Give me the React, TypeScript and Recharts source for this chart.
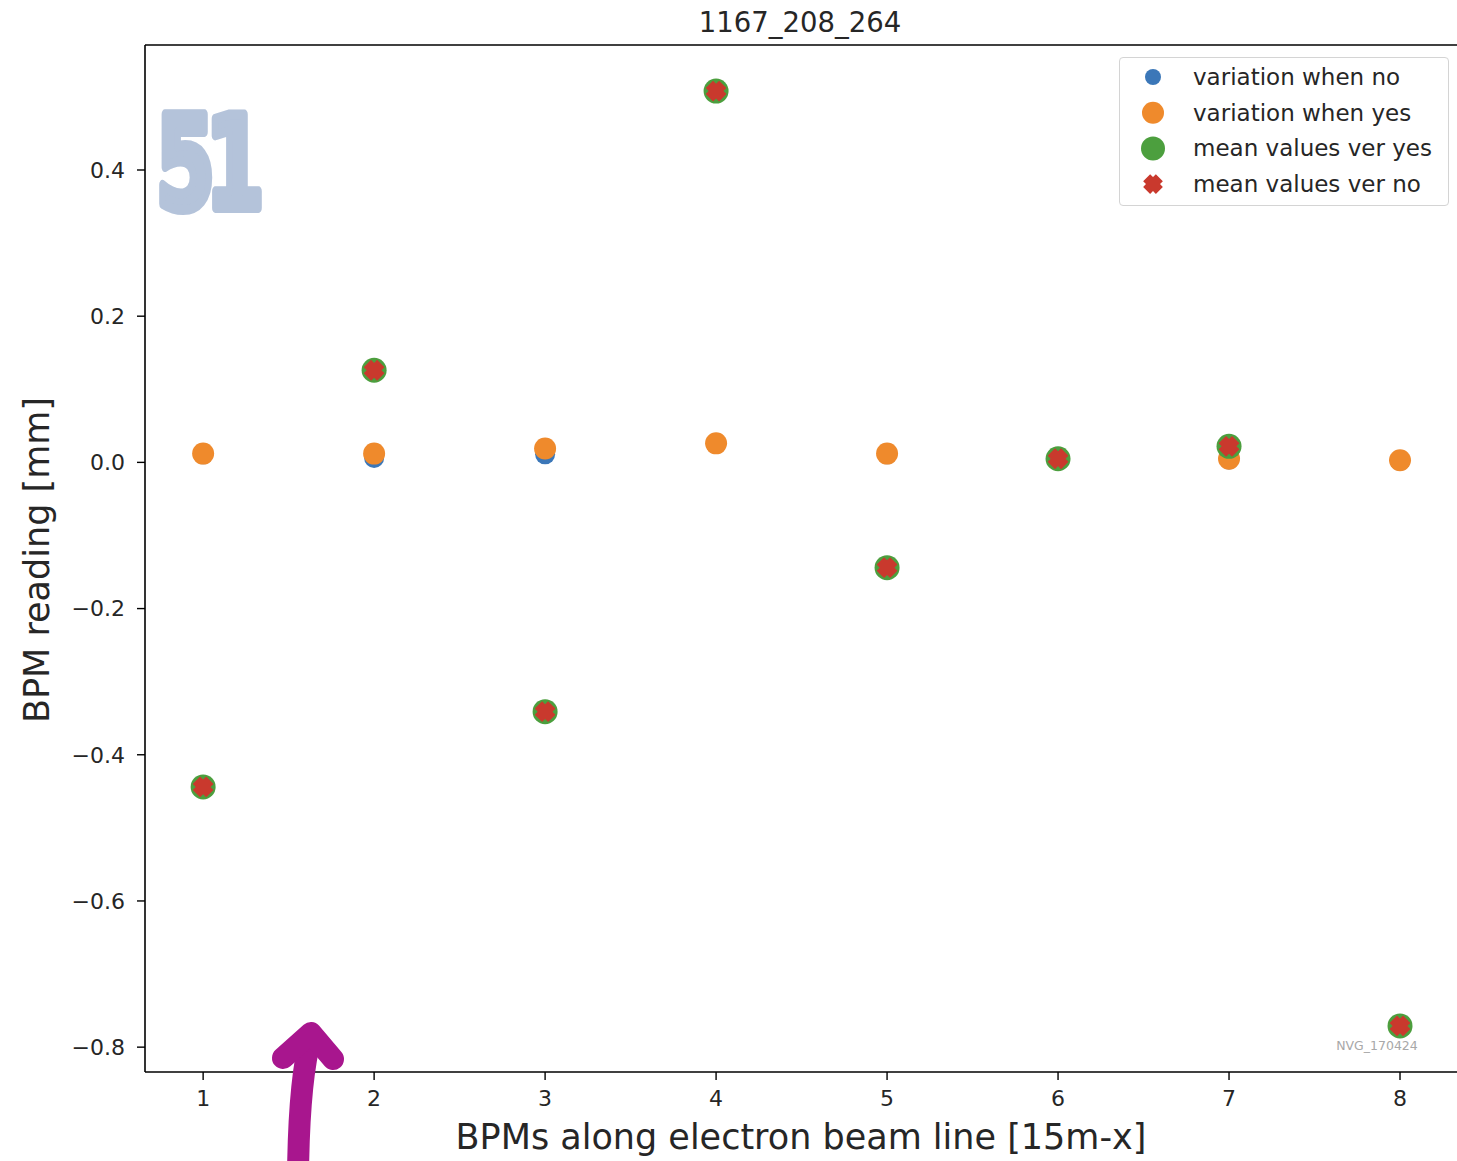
import React from 'react';
import { ScatterChart, Scatter, XAxis, YAxis, Legend, ReferenceLine, Label } from 'recharts';

const bpm = [1, 2, 3, 4, 5, 6, 7, 8];
const variationNo = [0.011, 0.006, 0.011, 0.025, 0.011, 0.004, 0.004, 0.002];
const variationYes = [0.012, 0.012, 0.019, 0.026, 0.012, 0.005, 0.005, 0.003];
const meanYes = [-0.444, 0.126, -0.341, 0.508, -0.144, 0.005, 0.022, -0.771];
const meanNo = [-0.444, 0.126, -0.341, 0.508, -0.144, 0.005, 0.022, -0.771];
const xTicks = [1, 2, 3, 4, 5, 6, 7, 8];
const yTicks = [-0.8, -0.6, -0.4, -0.2, 0.0, 0.2, 0.4];
const seriesNames = ['variation when no', 'variation when yes', 'mean values ver yes', 'mean values ver no'];
const title = '1167_208_264';
const xLabel = 'BPMs along electron beam line [15m-x]';
const yLabel = 'BPM reading [mm]';
const watermark = 'NVG_170424';

const C_BLUE = '#3b77b8';
const C_ORANGE = '#ef8a2c';
const C_GREEN = '#4c9f3e';
const C_RED = '#c9392d';
const FONT = '"DejaVu Sans", sans-serif';

const toPts = (ys: number[]) => bpm.map((x, i) => ({ x, y: ys[i] }));

const circle = (r: number, fill: string) => (p: any) => (
  <circle cx={p.cx} cy={p.cy} r={r} fill={fill} />
);

const xPath = (cx: number, cy: number, R: number) => {
  const w = 0.55;
  const base = [
    [-w, -1], [w, -1], [w, -w], [1, -w], [1, w], [w, w],
    [w, 1], [-w, 1], [-w, w], [-1, w], [-1, -w], [-w, -w],
  ];
  const c = Math.SQRT1_2;
  return (
    base
      .map(([a, b], i) => {
        const rx = (a - b) * c * R + cx;
        const ry = (a + b) * c * R + cy;
        return `${i === 0 ? 'M' : 'L'}${rx.toFixed(2)},${ry.toFixed(2)}`;
      })
      .join(' ') + ' Z'
  );
};

const xShape = (p: any) => <path d={xPath(p.cx, p.cy, 9.5)} fill={C_RED} />;

const fmtY = (v: number) => (v < 0 ? '\u2212' : '') + Math.abs(v).toFixed(1);

const legendMarkers = [
  (cx: number, cy: number) => <circle cx={cx} cy={cy} r={8} fill={C_BLUE} />,
  (cx: number, cy: number) => <circle cx={cx} cy={cy} r={11} fill={C_ORANGE} />,
  (cx: number, cy: number) => <circle cx={cx} cy={cy} r={12} fill={C_GREEN} />,
  (cx: number, cy: number) => <path d={xPath(cx, cy, 9)} fill={C_RED} />,
];

const renderLegend = () => (
  <div
    style={{
      width: 330,
      height: 149,
      boxSizing: 'border-box',
      border: '1.5px solid #d4d4d4',
      borderRadius: 4,
      background: 'rgba(255,255,255,0.85)',
      position: 'relative',
      fontFamily: FONT,
    }}
  >
    <svg width={330} height={149} style={{ position: 'absolute', left: 0, top: 0 }}>
      {seriesNames.map((n, i) => (
        <g key={n}>
          {legendMarkers[i](33, 19 + i * 35.7)}
          <text
            x={73}
            y={19 + i * 35.7}
            dominantBaseline="central"
            fontSize={23}
            fill="#262626"
            fontFamily={FONT}
          >
            {n}
          </text>
        </g>
      ))}
    </svg>
  </div>
);

export default function App() {
  return (
    <div
      style={{
        position: 'absolute',
        left: 0,
        top: 0,
        width: 1457,
        height: 1161,
        overflow: 'hidden',
        background: '#fff',
      }}
    >
      <ScatterChart
        width={1459}
        height={1161}
        margin={{ top: 45, right: 0, bottom: 0, left: 0 }}
        style={{ fontFamily: FONT }}
      >
        <XAxis
          type="number"
          dataKey="x"
          domain={[0.66, 8.345]}
          ticks={xTicks}
          allowDataOverflow
          height={89}
          tickSize={8}
          tickMargin={10}
          stroke="#000"
          strokeWidth={1.6}
          tick={{ fontSize: 22, fill: '#262626', fontFamily: FONT }}
          tickLine={{ stroke: '#000', strokeWidth: 1.4 }}
        >
          <Label
            content={() => (
              <text
                x={801}
                y={1137}
                textAnchor="middle"
                dominantBaseline="central"
                fontSize={35}
                fill="#262626"
                fontFamily={FONT}
              >
                {xLabel}
              </text>
            )}
          />
        </XAxis>
        <YAxis
          type="number"
          dataKey="y"
          domain={[-0.834, 0.571]}
          ticks={yTicks}
          allowDataOverflow
          width={145}
          tickSize={8}
          tickMargin={12}
          tickFormatter={fmtY}
          stroke="#000"
          strokeWidth={1.6}
          tick={{ fontSize: 22, fill: '#262626', fontFamily: FONT }}
          tickLine={{ stroke: '#000', strokeWidth: 1.4 }}
        >
          <Label
            content={() => (
              <text
                x={37}
                y={560}
                textAnchor="middle"
                dominantBaseline="central"
                fontSize={35}
                fill="#262626"
                fontFamily={FONT}
                transform="rotate(-90 37 560)"
              >
                {yLabel}
              </text>
            )}
          />
        </YAxis>
        <ReferenceLine y={0.571} stroke="#000" strokeWidth={1.6} ifOverflow="extendDomain" />
        <Scatter name={seriesNames[0]} data={toPts(variationNo)} shape={circle(10, C_BLUE)} isAnimationActive={false} />
        <Scatter name={seriesNames[1]} data={toPts(variationYes)} shape={circle(11, C_ORANGE)} isAnimationActive={false} />
        <Scatter name={seriesNames[2]} data={toPts(meanYes)} shape={circle(12.5, C_GREEN)} isAnimationActive={false} />
        <Scatter name={seriesNames[3]} data={toPts(meanNo)} shape={xShape} isAnimationActive={false} />
        <Legend
          layout="vertical"
          align="center"
          verticalAlign="middle"
          content={renderLegend}
          wrapperStyle={{ top: 57, left: 1119, width: 330, height: 149 }}
        />
      </ScatterChart>
      <svg
        width={1457}
        height={1161}
        style={{ position: 'absolute', left: 0, top: 0, pointerEvents: 'none' }}
      >
        <text
          x={800}
          y={22}
          textAnchor="middle"
          dominantBaseline="central"
          fontSize={27.5}
          fill="#262626"
          fontFamily={FONT}
        >
          {title}
        </text>
        <text
          x={1377}
          y={1045}
          textAnchor="middle"
          dominantBaseline="central"
          fontSize={12.5}
          fill="#a8a8a8"
          fontFamily={FONT}
        >
          {watermark}
        </text>
        <text
          x={0}
          y={0}
          fontSize={128}
          fontWeight="bold"
          fill="#b4c3da"
          stroke="#b4c3da"
          strokeWidth={10}
          strokeLinejoin="round"
          fontFamily={FONT}
          letterSpacing={-14}
          transform="translate(156 208) scale(0.66 1)"
        >
          51
        </text>
        <path
          d="M 298 1175 Q 299 1080 311 1036"
          stroke="#a8168e"
          strokeWidth={22}
          fill="none"
          strokeLinecap="round"
        />
        <path
          d="M 283 1058 L 311 1033 L 333 1059"
          stroke="#a8168e"
          strokeWidth={22}
          fill="none"
          strokeLinecap="round"
          strokeLinejoin="round"
        />
      </svg>
    </div>
  );
}
